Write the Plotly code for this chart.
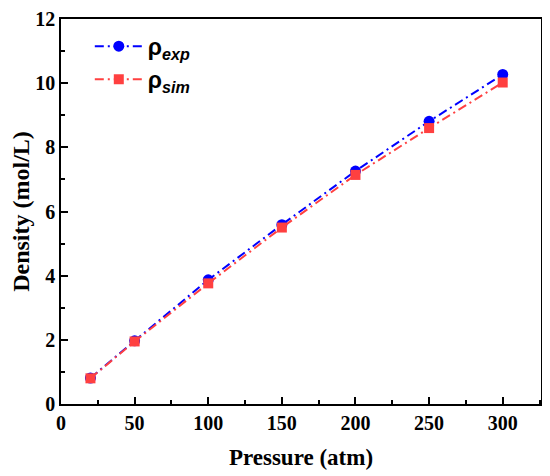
import plotly.graph_objects as go

# Pressure (atm) and density (mol/L)
pressure = [20, 50, 100, 150, 200, 250, 300]
rho_exp = [0.81, 1.97, 3.87, 5.59, 7.26, 8.81, 10.27]
rho_sim = [0.80, 1.95, 3.76, 5.50, 7.14, 8.60, 10.02]

x_ticks = [0, 50, 100, 150, 200, 250, 300]
y_ticks = [0, 2, 4, 6, 8, 10, 12]

fig = go.Figure()

fig.add_trace(
    go.Scatter(
        x=pressure,
        y=rho_exp,
        mode="lines+markers",
        name="<b>ρ<sub><i>exp</i></sub></b>",
        line=dict(color="#0000FF", width=2, dash="9px,4px,2px,4px"),
        marker=dict(symbol="circle", size=11, color="#0000FF"),
    )
)
fig.add_trace(
    go.Scatter(
        x=pressure,
        y=rho_sim,
        mode="lines+markers",
        name="<b>ρ<sub><i>sim</i></sub></b>",
        line=dict(color="#FF4040", width=2, dash="9px,4px,2px,4px"),
        marker=dict(symbol="square", size=10, color="#FF4040"),
    )
)

# the page body adds an 8px offset, so margins are shifted to compensate
fig.update_layout(
    width=550,
    height=476,
    plot_bgcolor="white",
    paper_bgcolor="white",
    margin=dict(l=53, r=17, t=11, b=80),
    showlegend=True,
    legend=dict(
        x=0.06,
        y=0.985,
        xanchor="left",
        yanchor="top",
        bgcolor="rgba(0,0,0,0)",
        font=dict(family="Liberation Sans", size=23, color="black"),
        itemwidth=48,
        tracegroupgap=4,
    ),
)

fig.update_xaxes(
    range=[0, 326],
    tickvals=x_ticks,
    ticks="inside",
    ticklen=7,
    tickwidth=1.5,
    tickcolor="black",
    minor=dict(ticks="inside", ticklen=4, tickwidth=1.5, tickcolor="black", dtick=25),
    showline=True,
    linewidth=1.5,
    linecolor="black",
    mirror=True,
    showgrid=False,
    zeroline=False,
    automargin=False,
    ticklabeloverflow="allow",
    tickfont=dict(family="Liberation Serif", size=20, color="black", weight="bold"),
    title=dict(
        text="<b>Pressure (atm)</b>",
        font=dict(family="Liberation Serif", size=23, color="black"),
        standoff=16,
    ),
)
fig.update_yaxes(
    range=[0, 12],
    tickvals=y_ticks,
    ticks="inside",
    ticklen=7,
    tickwidth=1.5,
    tickcolor="black",
    minor=dict(ticks="inside", ticklen=4, tickwidth=1.5, tickcolor="black", dtick=1),
    showline=True,
    linewidth=1.5,
    linecolor="black",
    mirror=True,
    showgrid=False,
    zeroline=False,
    automargin=False,
    ticklabeloverflow="allow",
    tickfont=dict(family="Liberation Serif", size=20, color="black", weight="bold"),
    title=dict(
        text="<b>Density (mol/L)</b>",
        font=dict(family="Liberation Serif", size=24, color="black"),
        standoff=4,
    ),
)

fig.write_html("out.html")
